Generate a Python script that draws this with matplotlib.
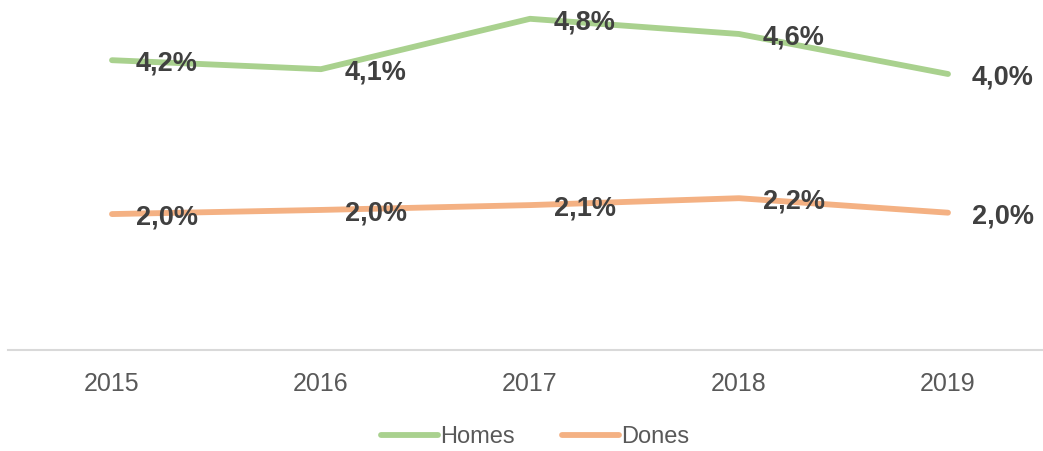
import matplotlib
matplotlib.use("Agg")
import matplotlib.pyplot as plt

years = ["2015", "2016", "2017", "2018", "2019"]
homes = [4.20, 4.07, 4.80, 4.58, 4.00]
dones = [1.97, 2.03, 2.10, 2.20, 1.99]
series_names = ["Homes", "Dones"]
colors = ["#A9D18E", "#F4B183"]

plt.rcParams['font.family'] = ['Liberation Sans', 'DejaVu Sans']

W, H = 1043, 451
fig = plt.figure(figsize=(W / 100, H / 100), dpi=100)
left_px, right_px = 7.5, 1052.5
bottom_px, top_px = 350, 5
ax = fig.add_axes([left_px / W, 1 - bottom_px / H,
                   (right_px - left_px) / W, (bottom_px - top_px) / H])

x = list(range(len(years)))
for name, vals, c in zip(series_names, [homes, dones], colors):
    ax.plot(x, vals, color=c, lw=4.2, solid_capstyle='round',
            solid_joinstyle='round', label=name)
    for xi, v in zip(x, vals):
        ax.annotate(f"{v:.1f}%".replace('.', ','), (xi, v),
                    xytext=(17, -2.5), textcoords='offset points',
                    ha='left', va='center', fontsize=19.5,
                    fontweight='bold', color='#404040')

ax.set_xlim(-0.5, len(years) - 0.5)
ax.set_ylim(0, 5.0)
ax.set_xticks(x)
ax.set_xticklabels(years, fontsize=18, color='#595959')
ax.set_yticks([])
ax.tick_params(axis='x', length=0, pad=16)
for s in ['top', 'right', 'left']:
    ax.spines[s].set_visible(False)
ax.spines['bottom'].set_color('#D9D9D9')
ax.spines['bottom'].set_linewidth(1.5)

leg = fig.legend(loc='center', bbox_to_anchor=(535 / W, 1 - 437 / H),
                 ncol=2, frameon=False, fontsize=17, handlelength=2.4,
                 handletextpad=0.1, columnspacing=2.0,
                 labelcolor='#595959')
for line in leg.get_lines():
    line.set_linewidth(4.2)

fig.savefig("out.png", dpi=100)
